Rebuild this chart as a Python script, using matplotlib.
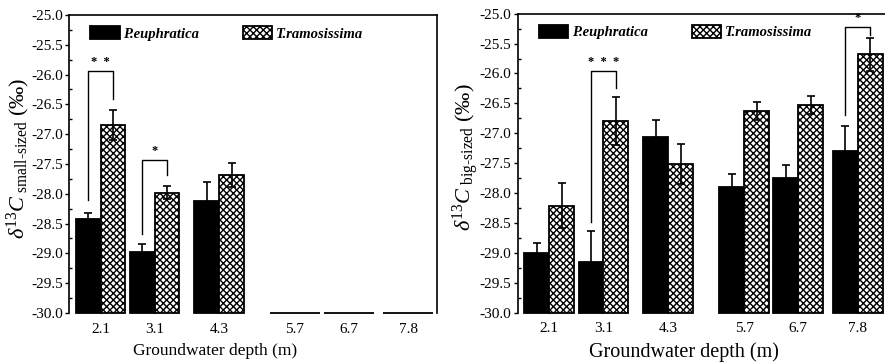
import matplotlib
matplotlib.use("Agg")
import matplotlib.pyplot as plt
import numpy as np

plt.rcParams['font.family'] = ['Liberation Serif', 'DejaVu Serif']
plt.rcParams['mathtext.fontset'] = 'custom'
plt.rcParams['mathtext.rm'] = 'Liberation Serif'
plt.rcParams['mathtext.it'] = 'Liberation Serif:italic'
plt.rcParams['mathtext.bf'] = 'Liberation Serif:bold'
plt.rcParams['axes.unicode_minus'] = False
plt.rcParams['hatch.linewidth'] = 1.0

# ---- data ----
depths = [2.1, 3.1, 4.3, 5.7, 6.7, 7.8]
depth_labels = ['2.1', '3.1', '4.3', '5.7', '6.7', '7.8']
species = ['P.euphratica', 'T.ramosissima']

small_pe = [-28.42, -28.98, -28.12, -30.0, -30.0, -30.0]
small_pe_err = [0.09, 0.13, 0.31, 0.0, 0.0, 0.0]
small_tr = [-26.85, -27.98, -27.68, -30.0, -30.0, -30.0]
small_tr_err = [0.25, 0.11, 0.20, 0.0, 0.0, 0.0]

big_pe = [-29.00, -29.16, -27.06, -27.89, -27.74, -27.30]
big_pe_err = [0.17, 0.53, 0.29, 0.21, 0.21, 0.43]
big_tr = [-28.21, -26.79, -27.51, -26.62, -26.52, -25.68]
big_tr_err = [0.38, 0.40, 0.33, 0.15, 0.15, 0.28]

# significance brackets: (depth, top, left leg end, right leg end, label)
small_sig = [(2.1, -25.94, -28.10, -26.41, '*  *'),
             (3.1, -27.44, -28.67, -27.68, '*')]
big_sig = [(3.1, -25.96, -28.48, -26.24, '*  *  *'),
           (7.8, -25.22, -26.69, -25.36, '*')]

ylim = (-30.0, -25.0)
xlim = (1.517, 8.33)
width = 0.46

fig = plt.figure(figsize=(8.85, 3.62), dpi=100)
ax1 = fig.add_axes([0.078, 0.1354, 0.4157, 0.8232])
ax2 = fig.add_axes([0.585, 0.1362, 0.4167, 0.8260])


def draw(ax, pe, pe_err, tr, tr_err, sig, sub, xlab_x, xlab_size):
    x = np.array(depths)
    base = ylim[0]
    pe_h = np.array(pe) - base
    tr_h = np.array(tr) - base
    ax.bar(x - width / 2, pe_h, width, bottom=base, color='black',
           edgecolor='black', linewidth=1.3, label=species[0], zorder=2,
           clip_on=False)
    ax.bar(x + width / 2, tr_h, width, bottom=base, color='white',
           edgecolor='black', hatch='xxxxx', linewidth=1.3,
           label=species[1], zorder=2, clip_on=False)
    mask = np.array(pe_err) > 0
    ax.errorbar((x - width / 2)[mask], np.array(pe)[mask],
                yerr=np.array(pe_err)[mask], fmt='none', ecolor='black',
                elinewidth=1.2, capsize=3, capthick=1.2, zorder=3)
    mask = np.array(tr_err) > 0
    ax.errorbar((x + width / 2)[mask], np.array(tr)[mask],
                yerr=np.array(tr_err)[mask], fmt='none', ecolor='black',
                elinewidth=1.2, capsize=3, capthick=1.2, zorder=3)
    for d, top, lleg, rleg, lab in sig:
        xl = d - width / 2
        xr = d + width / 2
        ax.plot([xl, xl, xr, xr], [lleg, top, top, rleg], color='black',
                lw=1.0, zorder=4)
        ax.text(d, top + 0.15, lab, ha='center', va='center', fontsize=9,
                fontweight='bold')
    ax.set_xlim(*xlim)
    ax.set_ylim(*ylim)
    ax.set_xticks(depths)
    ax.set_xticklabels(depth_labels)
    ax.tick_params(axis='x', length=0, labelsize=11, pad=7)
    ax.set_yticks(np.arange(-30.0, -24.99, 0.5))
    ax.set_yticks(np.arange(-30.0, -24.99, 0.25), minor=True)
    ax.yaxis.set_major_formatter(matplotlib.ticker.FormatStrFormatter('%.1f'))
    ax.tick_params(axis='y', which='major', direction='out', length=3,
                   width=1.0, labelsize=11, pad=1.5)
    ax.tick_params(axis='y', which='minor', direction='in', length=2,
                   width=1.0)
    ax.spines['bottom'].set_visible(False)
    for s in ['left', 'top', 'right']:
        ax.spines[s].set_linewidth(1.2)
    ax.set_xlabel('Groundwater depth (m)', fontsize=xlab_size)
    ax.xaxis.set_label_coords(xlab_x, -0.10)
    ax.set_ylabel(r'$\mathit{\delta}^{\mathit{13}}\mathit{C}_{\ \mathrm{' + sub +
                  r'}}\ (\mathit{‰})$', fontsize=16)
    ax.yaxis.set_label_coords(-0.10, 0.52)
    ax.legend(loc='upper left', bbox_to_anchor=(0.058, 0.962), ncol=2,
              frameon=False, handlelength=2.0, handleheight=0.95,
              handletextpad=0.25, columnspacing=3.0, borderpad=0,
              borderaxespad=0,
              prop={'family': 'Liberation Serif', 'style': 'italic',
                    'weight': 'bold', 'size': 10.5})


draw(ax1, small_pe, small_pe_err, small_tr, small_tr_err, small_sig,
     r'small\text{-}sized', 0.397, 12.5)
draw(ax2, big_pe, big_pe_err, big_tr, big_tr_err, big_sig,
     r'big\text{-}sized', 0.451, 14.5)

fig.savefig('out.png', dpi=100)
